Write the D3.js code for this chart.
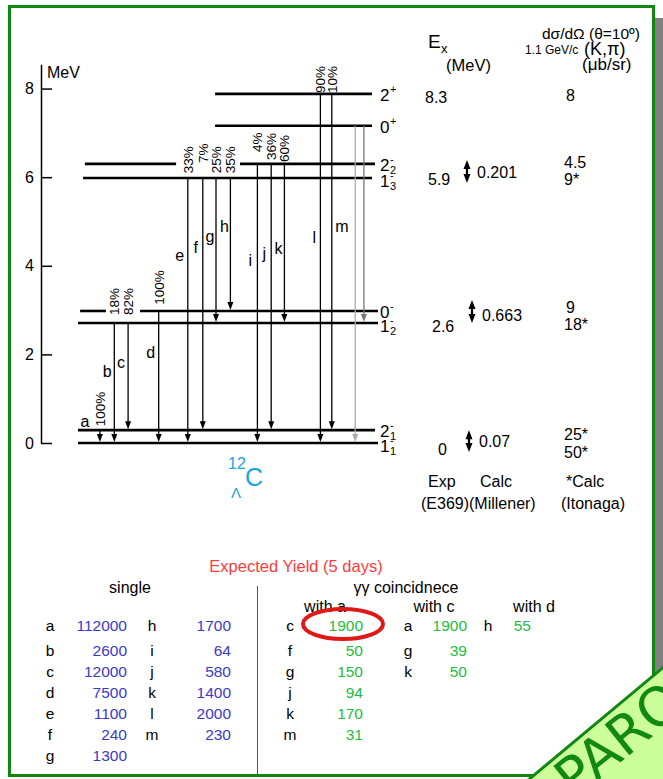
<!DOCTYPE html>
<html>
<head>
<meta charset="utf-8">
<script src="https://cdn.jsdelivr.net/npm/d3@7"></script>
<style>
  body { margin: 0; background: #fff; }
  svg { display: block; font-family: "Liberation Sans", Arial, sans-serif; }
</style>
</head>
<body>
<div id="chart"></div>
<script>
// level scheme of 12_Lambda C (energies, MeV)
const levelNames = ["1_1^-", "2_1^-", "1_2^-", "0^-", "1_3^-", "2_2^-", "0^+", "2^+"];
const levelEnergies = [0, 0.29, 2.71, 2.98, 5.98, 6.30, 7.16, 7.88];

// gamma transitions
const transLabels = ["a", "b", "c", "d", "e", "f", "g", "h", "i", "j", "k", "l", "m", "", ""];
const transFrom = ["2_1^-", "1_2^-", "1_2^-", "0^-", "1_3^-", "1_3^-", "1_3^-", "1_3^-",
                   "2_2^-", "2_2^-", "2_2^-", "2^+", "2^+", "0^+", "0^+"];
const transTo = ["1_1^-", "1_1^-", "2_1^-", "1_1^-", "1_1^-", "2_1^-", "1_2^-", "0^-",
                 "1_1^-", "2_1^-", "1_2^-", "1_1^-", "2_1^-", "1_1^-", "1_2^-"];
const branching = ["100%", "18%", "82%", "100%", "33%", "7%", "25%", "35%",
                   "4%", "36%", "60%", "90%", "10%", "", ""];

// expected yields
const singleLetters1 = ["a", "b", "c", "d", "e", "f", "g"];
const singleValues1 = [112000, 2600, 12000, 7500, 1100, 240, 1300];
const singleLetters2 = ["h", "i", "j", "k", "l", "m"];
const singleValues2 = [1700, 64, 580, 1400, 2000, 230];
const withALetters = ["c", "f", "g", "j", "k", "m"];
const withAValues = [1900, 50, 150, 94, 170, 31];
const withCLetters = ["a", "g", "k"];
const withCValues = [1900, 39, 50];
const withDLetters = ["h"];
const withDValues = [55];

// ---- layout (diagram units, not data) ----
// horizontal slot of each transition, 0..100 across the level lines
const transSlot = [7.3, 12.1, 16.7, 26.9, 36.6, 41.6, 46, 50.8, 59.8, 64.4, 68.8, 80.8, 84.6, 92.4, 95.3];
const transColor = ["#000", "#000", "#000", "#000", "#000", "#000", "#000", "#000",
                    "#000", "#000", "#000", "#000", "#000", "#aaa", "#777"];
// where the letter sits (energy) and how far from its line (px)
const letterE = [0.36, 1.49, 1.69, 1.92, 4.11, 4.29, 4.54, 4.76, 4.0, 4.15, 4.27, 4.51, 4.76];
const letterDx = [-15, -7, -7, -8, -8, -7, -6, -6, -7, -7, -6, -6, 10];
// bottom end of the rotated branching label (energy)
const pctE = [0.38, 2.89, 2.89, 3.12, 6.09, 6.32, 6.09, 6.09, 6.57, 6.39, 6.34, 7.90, 7.90];
// drawn extent of each level line (slots)
const levelSpans = {
  "1_1^-": [[0, 100]], "2_1^-": [[0, 99]], "1_2^-": [[0, 100]], "0^-": [[0.7, 9.3], [20.7, 100]],
  "1_3^-": [[1.7, 98]], "2_2^-": [[2.3, 32.7], [54, 99]], "0^+": [[45.7, 98]], "2^+": [[45.7, 98]]
};

const width = 663, height = 779;
const svg = d3.select("#chart").append("svg")
  .attr("width", width).attr("height", height)
  .attr("viewBox", [0, 0, width, height]);

// frame + shadow
svg.append("rect").attr("x", 655).attr("y", 18).attr("width", 8).attr("height", 700).attr("fill", "#808080");
svg.append("rect").attr("x", 9.5).attr("y", 6.5).attr("width", 644).attr("height", 769)
  .attr("fill", "#fff").attr("stroke", "#118811").attr("stroke-width", 3);

const y = d3.scaleLinear().domain([0, 8.55]).range([443, 64.2]);
const x = d3.scaleLinear().domain([0, 100]).range([78, 378]);
const eOf = name => levelEnergies[levelNames.indexOf(name)];

// energy axis
const axis = svg.append("g").attr("transform", "translate(41,0)")
  .call(d3.axisLeft(y).tickValues([0, 2, 4, 6, 8]).tickSize(-11).tickSizeOuter(0).tickPadding(7));
axis.selectAll("path, line").attr("stroke", "#000").attr("stroke-width", 1.5);
axis.selectAll("text").attr("font-size", 16).attr("fill", "#000").attr("font-family", "Liberation Sans, Arial, sans-serif");
svg.append("text").attr("x", 47).attr("y", 78).attr("font-size", 16).text("MeV");

// levels
levelNames.forEach((name, i) => {
  levelSpans[name].forEach(s => {
    svg.append("line")
      .attr("x1", x(s[0])).attr("x2", x(s[1]))
      .attr("y1", y(levelEnergies[i])).attr("y2", y(levelEnergies[i]))
      .attr("stroke", "#000").attr("stroke-width", 2.6);
  });
});

// level labels J^pi with sub/superscripts
const lab = svg.append("g").attr("font-size", 17);
levelNames.forEach((name, i) => {
  const [main, rest] = name.split("^");
  const [j, sub] = main.split("_");
  const ly = y(levelEnergies[i]);
  const lower = ["1_3^-", "1_2^-", "1_1^-"].includes(name);
  const base = ly + (lower ? 9 : 7);
  const lx = 380;
  lab.append("text").attr("x", lx).attr("y", base).text(j);
  lab.append("text").attr("x", lx + 10).attr("y", base - 8).attr("font-size", 11).text(rest === "-" ? "-" : "+");
  if (sub) lab.append("text").attr("x", lx + 10).attr("y", base + 3).attr("font-size", 11).text(sub);
});

// transitions
transLabels.forEach((t, i) => {
  const tx = x(transSlot[i]);
  const y1 = y(eOf(transFrom[i]));
  const y2 = y(eOf(transTo[i])) - 1;
  svg.append("line").attr("x1", tx).attr("x2", tx).attr("y1", y1).attr("y2", y2 - 6)
    .attr("stroke", transColor[i]).attr("stroke-width", 1.3);
  svg.append("path")
    .attr("d", `M${tx - 3},${y2 - 8}L${tx + 3},${y2 - 8}L${tx},${y2}Z`)
    .attr("fill", transColor[i]);
  if (t) {
    svg.append("text").attr("x", tx + letterDx[i]).attr("y", y(letterE[i]))
      .attr("text-anchor", "middle").attr("font-size", 16).text(t);
  }
  if (branching[i]) {
    const bx = tx + 5, by = y(pctE[i]);
    svg.append("text").attr("x", bx).attr("y", by)
      .attr("transform", `rotate(-90,${bx},${by})`)
      .attr("font-size", 13.5).text(branching[i]);
  }
});

// nucleus label
const nuc = svg.append("g").attr("fill", "#1ea5e0");
nuc.append("text").attr("x", 228).attr("y", 469).attr("font-size", 16).text("12");
nuc.append("text").attr("x", 245).attr("y", 486).attr("font-size", 25).text("C");
nuc.append("text").attr("x", 231).attr("y", 498).attr("font-size", 15).text("Λ");

// right hand columns
const rc = svg.append("g").attr("font-size", 15);
rc.append("text").attr("x", 428).attr("y", 48).attr("font-size", 19).text("E");
rc.append("text").attr("x", 441).attr("y", 53).attr("font-size", 13).text("x");
rc.append("text").attr("x", 446).attr("y", 71).attr("font-size", 16.5).text("(MeV)");
rc.append("text").attr("x", 542).attr("y", 39).attr("font-size", 15.5).text("dσ/dΩ (θ=10º)");
rc.append("text").attr("x", 525).attr("y", 54).attr("font-size", 12).text("1.1  GeV/c");
rc.append("text").attr("x", 584).attr("y", 55).attr("font-size", 18).text("(K,π)");
rc.append("text").attr("x", 582).attr("y", 70).attr("font-size", 17).text("(μb/sr)");

const exVals = ["8.3", "5.9", "2.6", "0"];
const exAt = ["2^+", "1_3^-", "1_2^-", "1_1^-"];
const exDy = [9, 7, 9, 12];
const exX = [425, 428, 432, 438];
exVals.forEach((v, i) => rc.append("text").attr("font-size", 16)
  .attr("x", exX[i]).attr("y", y(eOf(exAt[i])) + exDy[i]).text(v));

const calcVals = ["0.201", "0.663", "0.07"];
const calcTop = ["2_2^-", "0^-", "2_1^-"];
const calcBot = ["1_3^-", "1_2^-", "1_1^-"];
const calcTopDy = [-4, -11, 0];
const calcBotDy = [5, 0, 9];
const calcTextDy = [7, 10, 6];
const calcX = [467, 472, 469];
calcVals.forEach((v, i) => {
  const t = y(eOf(calcTop[i])) + calcTopDy[i], b = y(eOf(calcBot[i])) + calcBotDy[i], cx = calcX[i];
  rc.append("line").attr("x1", cx).attr("x2", cx).attr("y1", t + 6).attr("y2", b - 6)
    .attr("stroke", "#000").attr("stroke-width", 2.2);
  rc.append("path").attr("d", `M${cx - 3.5},${t + 9}L${cx + 3.5},${t + 9}L${cx},${t}Z`);
  rc.append("path").attr("d", `M${cx - 3.5},${b - 9}L${cx + 3.5},${b - 9}L${cx},${b}Z`);
  rc.append("text").attr("font-size", 16).attr("x", cx + 10).attr("y", (t + b) / 2 + calcTextDy[i]).text(v);
});

const xsVals = ["8", "4.5", "9*", "9", "18*", "25*", "50*"];
const xsAt = ["2^+", "2_2^-", "1_3^-", "0^-", "1_2^-", "2_1^-", "1_1^-"];
const xsDy = [7, 4, 7, 2, 7, 10, 15];
xsVals.forEach((v, i) => rc.append("text").attr("font-size", 16)
  .attr("x", v.length === 1 ? 566 : 564).attr("y", y(eOf(xsAt[i])) + xsDy[i]).text(v));

rc.append("text").attr("font-size", 16).attr("x", 428).attr("y", 487).text("Exp");
rc.append("text").attr("font-size", 16).attr("x", 480).attr("y", 487).text("Calc");
rc.append("text").attr("font-size", 16).attr("x", 566).attr("y", 487).text("*Calc");
rc.append("text").attr("font-size", 16).attr("x", 421).attr("y", 509).text("(E369)(Millener)");
rc.append("text").attr("font-size", 16).attr("x", 561).attr("y", 509).text("(Itonaga)");

// yield tables
const tb = svg.append("g").attr("font-size", 15.5);
tb.append("text").attr("x", 296).attr("y", 572).attr("text-anchor", "middle")
  .attr("fill", "#ff3b3b").attr("font-size", 16.5).text("Expected Yield (5 days)");
tb.append("text").attr("x", 130).attr("y", 593).attr("text-anchor", "middle").attr("font-size", 16).text("single");
tb.append("text").attr("x", 406).attr("y", 593).attr("text-anchor", "middle").attr("font-size", 16).text("γγ coincidnece");
tb.append("line").attr("x1", 257.5).attr("x2", 257.5).attr("y1", 586).attr("y2", 775)
  .attr("stroke", "#555").attr("stroke-width", 1);
[["with a", 325], ["with c", 434], ["with d", 534]].forEach(d =>
  tb.append("text").attr("x", d[1]).attr("y", 612).attr("text-anchor", "middle").attr("font-size", 16).text(d[0]));

const row = d3.scaleLinear().domain([0, 6]).range([635, 761]);
const rowY = i => i === 0 ? 631 : row(i);
function column(letters, values, lx, vx, color) {
  letters.forEach((l, i) => {
    tb.append("text").attr("x", lx).attr("y", rowY(i)).attr("text-anchor", "middle").text(l);
    tb.append("text").attr("x", vx).attr("y", rowY(i)).attr("text-anchor", "end")
      .attr("fill", color).text(values[i]);
  });
}
column(singleLetters1, singleValues1, 50, 127, "#3a3ac8");
column(singleLetters2, singleValues2, 152, 231, "#3a3ac8");
column(withALetters, withAValues, 290, 363, "#22bb44");
column(withCLetters, withCValues, 408, 467, "#22bb44");
column(withDLetters, withDValues, 488, 531, "#22bb44");

svg.append("ellipse").attr("cx", 343).attr("cy", 624).attr("rx", 40).attr("ry", 15)
  .attr("fill", "none").attr("stroke", "#e01818").attr("stroke-width", 4);

// corner banner
svg.append("path").attr("d", "M527,781L665,666L665,781Z")
  .attr("fill", "#ccff99").attr("stroke", "#118811").attr("stroke-width", 3);
svg.append("text").attr("x", 574).attr("y", 800)
  .attr("transform", "rotate(-39,574,800)")
  .attr("font-size", 54).attr("fill", "#118811").attr("font-family", "DejaVu Sans, sans-serif")
  .text("PARO");
</script>
</body>
</html>
